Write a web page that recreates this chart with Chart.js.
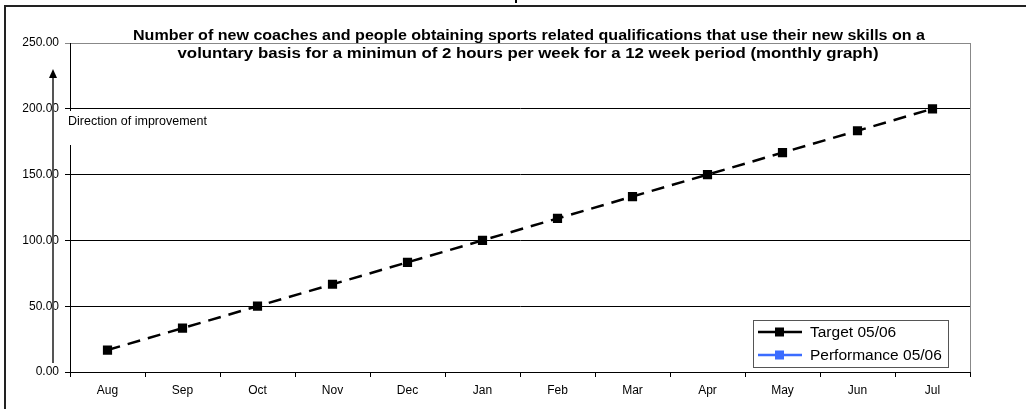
<!DOCTYPE html>
<html>
<head>
<meta charset="utf-8">
<script src="https://cdn.jsdelivr.net/npm/chart.js@4/dist/chart.umd.min.js"></script>
<style>
  html, body { margin: 0; padding: 0; background: #fff; }
  #wrap { width: 1026px; height: 409px; position: relative; }
</style>
</head>
<body>
<div id="wrap"><canvas id="chart" width="1026" height="409"></canvas></div>
<script>
// Chart data
const months = ['Aug', 'Sep', 'Oct', 'Nov', 'Dec', 'Jan', 'Feb', 'Mar', 'Apr', 'May', 'Jun', 'Jul'];
const target0506 = [16.67, 33.33, 50, 66.67, 83.33, 100, 116.67, 133.33, 150, 166.67, 183.33, 200];
const performance0506 = [null, null, null, null, null, null, null, null, null, null, null, null];
const yTicks = [0, 50, 100, 150, 200, 250];
const titleLines = [
  'Number of new coaches and people obtaining sports related qualifications that use their new skills on a',
  'voluntary basis for a minimun of 2 hours per week for a 12 week period (monthly graph)'
];
const arrowLabel = 'Direction of improvement';

const FONT = 'Arial, "Liberation Sans", sans-serif';

// text squeezed/stretched to a given width (reference text is a bit wider)
function fillWide(ctx, text, cx, y, width) {
  const w = ctx.measureText(text).width;
  ctx.save();
  ctx.translate(cx, y);
  ctx.scale(width / w, 1);
  ctx.fillText(text, 0, 0);
  ctx.restore();
}

// Frame, title, arrow and legend drawn around the chart
const decorPlugin = {
  id: 'decor',
  beforeDraw(chart) {
    const ctx = chart.ctx;
    const a = chart.chartArea;
    ctx.save();
    ctx.fillStyle = '#fff';
    ctx.fillRect(0, 0, chart.width, chart.height);
    // outer frame (clipped right / bottom)
    ctx.strokeStyle = '#222';
    ctx.lineWidth = 2;
    ctx.beginPath();
    ctx.moveTo(5, chart.height + 5);
    ctx.lineTo(5, 6);
    ctx.lineTo(chart.width + 5, 6);
    ctx.stroke();
    // clipped text at the very top
    ctx.fillStyle = '#000';
    ctx.fillRect(515, 0, 2, 3);
    // plot area border
    ctx.strokeStyle = '#888';
    ctx.lineWidth = 1;
    ctx.strokeRect(a.left + 0.5, a.top + 0.5, a.right - a.left, a.bottom - a.top);
    ctx.restore();
  },
  afterDraw(chart) {
    const ctx = chart.ctx;
    const a = chart.chartArea;
    ctx.save();

    // direction of improvement label box (covers the axis)
    ctx.fillStyle = '#fff';
    ctx.fillRect(a.left - 3, 111, 150, 34);
    ctx.fillStyle = '#000';
    ctx.font = '12.5px ' + FONT;
    ctx.textAlign = 'left';
    ctx.textBaseline = 'middle';
    ctx.fillText(arrowLabel, a.left - 2, 122);

    // arrow
    ctx.strokeStyle = '#555';
    ctx.lineWidth = 2;
    ctx.beginPath();
    ctx.moveTo(53, 363);
    ctx.lineTo(53, 77);
    ctx.stroke();
    ctx.fillStyle = '#000';
    ctx.beginPath();
    ctx.moveTo(53, 69);
    ctx.lineTo(49, 78);
    ctx.lineTo(57, 78);
    ctx.closePath();
    ctx.fill();

    // title
    ctx.fillStyle = '#000';
    ctx.font = 'bold 14.5px ' + FONT;
    ctx.textAlign = 'center';
    ctx.textBaseline = 'middle';
    fillWide(ctx, titleLines[0], 529, 36, 792);
    fillWide(ctx, titleLines[1], 528, 54, 701);

    // legend
    const lx = 753, ly = 320, lw = 195, lh = 47;
    ctx.fillStyle = '#fff';
    ctx.fillRect(lx, ly, lw, lh);
    ctx.strokeStyle = '#555';
    ctx.lineWidth = 1;
    ctx.strokeRect(lx + 0.5, ly + 0.5, lw, lh);
    chart.data.datasets.forEach((ds, i) => {
      const y = ly + 12 + i * 23;
      ctx.strokeStyle = ds.borderColor;
      ctx.lineWidth = 2.5;
      ctx.setLineDash([]);
      ctx.beginPath();
      ctx.moveTo(lx + 5, y);
      ctx.lineTo(lx + 49, y);
      ctx.stroke();
      ctx.fillStyle = ds.pointBackgroundColor;
      ctx.fillRect(lx + 22, y - 4.5, 9, 9);
      ctx.fillStyle = '#000';
      ctx.font = '15.5px ' + FONT;
      ctx.textAlign = 'left';
      ctx.textBaseline = 'middle';
      ctx.fillText(ds.label, lx + 57, y + 1);
    });
    ctx.restore();
  }
};

new Chart(document.getElementById('chart'), {
  type: 'line',
  data: {
    labels: months,
    datasets: [
      {
        label: 'Target 05/06',
        data: target0506,
        borderColor: '#000',
        backgroundColor: '#000',
        pointBackgroundColor: '#000',
        borderWidth: 2.5,
        borderDash: [13, 8],
        pointStyle: 'rect',
        pointRadius: 6.5,
        pointBorderWidth: 0,
        tension: 0
      },
      {
        label: 'Performance 05/06',
        data: performance0506,
        borderColor: '#3b6cff',
        backgroundColor: '#3b6cff',
        pointBackgroundColor: '#3b6cff',
        borderWidth: 2.5,
        pointStyle: 'rect',
        pointRadius: 6.5
      }
    ]
  },
  options: {
    responsive: false,
    animation: false,
    devicePixelRatio: 1,
    layout: { padding: { top: 43, right: 56, left: 0, bottom: 0 } },
    plugins: {
      legend: { display: false },
      title: { display: false },
      tooltip: { enabled: false }
    },
    scales: {
      x: {
        offset: true,
        afterFit: s => { s.height = 37; },
        grid: {
          offset: true,
          drawOnChartArea: false,
          drawTicks: true,
          tickLength: 5,
          color: '#000'
        },
        border: { display: true, color: '#000', width: 1 },
        ticks: {
          color: '#000',
          font: { family: FONT, size: 12 },
          padding: 6,
          maxRotation: 0
        }
      },
      y: {
        min: 0,
        max: 250,
        afterFit: s => { s.width = 70; },
        afterBuildTicks: s => { s.ticks = yTicks.map(v => ({ value: v })); },
        grid: {
          color: ctx => (ctx.tick && ctx.tick.value === 250 ? '#888' : '#000'),
          tickLength: 5,
          lineWidth: 1
        },
        border: { display: true, color: '#000', width: 1 },
        ticks: {
          color: '#000',
          font: { family: FONT, size: 12 },
          padding: 6,
          callback: v => Number(v).toFixed(2)
        }
      }
    }
  },
  plugins: [decorPlugin]
});
</script>
</body>
</html>
